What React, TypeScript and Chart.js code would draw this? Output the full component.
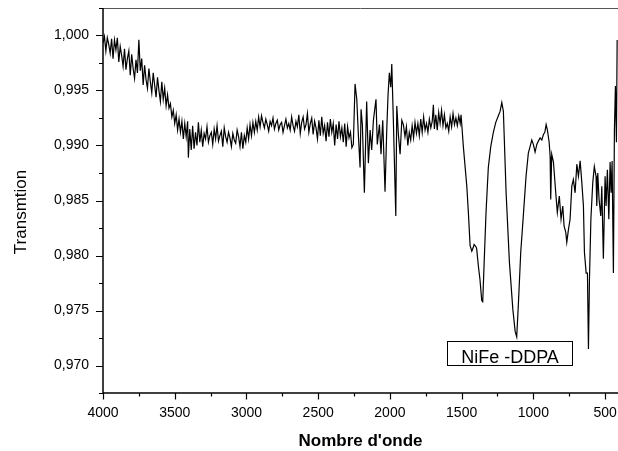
import React, { useEffect, useRef } from "react";
import { Chart, registerables } from "chart.js";

Chart.register(...registerables);

// Wavenumber (cm-1)
const wavenumbers = [
  4000, 3990, 3980, 3970, 3960, 3950, 3940, 3930, 3920, 3910,
  3900, 3890, 3880, 3870, 3860, 3850, 3840, 3830, 3820, 3810,
  3800, 3790, 3780, 3770, 3760, 3750, 3740, 3730, 3720, 3710,
  3700, 3690, 3680, 3670, 3660, 3650, 3640, 3630, 3620, 3610,
  3600, 3590, 3580, 3570, 3560, 3550, 3540, 3530, 3520, 3510,
  3500, 3490, 3480, 3470, 3460, 3450, 3440, 3430, 3420, 3410,
  3405, 3395, 3385, 3375, 3365, 3355, 3345, 3335, 3325, 3315,
  3305, 3295, 3285, 3275, 3265, 3255, 3245, 3235, 3225, 3215,
  3205, 3195, 3185, 3175, 3165, 3155, 3145, 3135, 3125, 3115,
  3105, 3095, 3085, 3075, 3065, 3055, 3045, 3035, 3025, 3015,
  3005, 2995, 2985, 2975, 2965, 2955, 2945, 2935, 2925, 2915,
  2905, 2895, 2885, 2875, 2865, 2855, 2845, 2835, 2825, 2815,
  2805, 2795, 2785, 2775, 2765, 2755, 2745, 2735, 2725, 2715,
  2705, 2695, 2685, 2675, 2665, 2655, 2645, 2635, 2625, 2615,
  2605, 2595, 2585, 2575, 2565, 2555, 2545, 2535, 2525, 2515,
  2505, 2495, 2485, 2475, 2465, 2455, 2445, 2435, 2425, 2415,
  2405, 2395, 2385, 2375, 2365, 2355, 2345, 2335, 2325, 2315,
  2305, 2295, 2285, 2275, 2265, 2255, 2243, 2231, 2220, 2208,
  2201, 2192, 2178, 2162, 2150, 2138, 2127, 2115, 2097, 2088,
  2073, 2062, 2050, 2034, 2022, 2013, 2004, 1994, 1987, 1976,
  1959, 1952, 1941, 1929, 1917, 1906, 1895, 1885, 1875, 1865,
  1855, 1845, 1835, 1825, 1815, 1805, 1795, 1785, 1775, 1765,
  1755, 1745, 1735, 1725, 1715, 1705, 1697, 1690, 1680, 1670,
  1660, 1650, 1640, 1630, 1620, 1610, 1600, 1590, 1580, 1570,
  1560, 1550, 1540, 1530, 1520, 1510, 1504, 1488, 1464, 1453,
  1441, 1429, 1420, 1413, 1400, 1395, 1383, 1372, 1360, 1353,
  1344, 1330, 1314, 1297, 1279, 1262, 1244, 1232, 1220, 1209,
  1190, 1167, 1143, 1127, 1116, 1104, 1088, 1070, 1051, 1035,
  1023, 1011, 1000, 988, 976, 965, 953, 941, 930, 920,
  911, 902, 890, 883, 879, 872, 860, 844, 833, 819,
  807, 795, 786, 774, 767, 756, 744, 732, 721, 709,
  697, 686, 674, 662, 651, 644, 632, 623, 616, 609,
  599, 586, 575, 563, 558, 551, 542, 530, 523, 512,
  500, 493, 484, 474, 465, 458, 451, 442, 435, 428,
  421, 416,
];

// Transmittance
const transmittance = [
  0.9993, 0.9999, 0.9986, 0.9998, 0.9992, 0.9984, 0.9997, 0.9979, 0.9996, 0.9987,
  0.9998, 0.9976, 0.999, 0.9982, 0.9972, 0.9988, 0.9969, 0.9979, 0.9986, 0.9964,
  0.9983, 0.997, 0.9961, 0.9978, 0.9966, 0.9996, 0.9968, 0.9979, 0.9955, 0.9973,
  0.996, 0.9952, 0.997, 0.9958, 0.9948, 0.9966, 0.9955, 0.9944, 0.9962, 0.995,
  0.994, 0.9958, 0.9942, 0.9952, 0.9936, 0.9946, 0.9934, 0.9938, 0.9926, 0.9932,
  0.992, 0.9928, 0.9914, 0.9924, 0.9912, 0.9922, 0.9906, 0.992, 0.9908, 0.9922,
  0.9889, 0.9915, 0.9896, 0.9918, 0.9897, 0.9912, 0.99, 0.9921, 0.9903, 0.9914,
  0.9899, 0.9911, 0.9906, 0.9917, 0.9903, 0.9909, 0.9912, 0.9901, 0.9915, 0.9906,
  0.9918, 0.9904, 0.9909, 0.9913, 0.9899, 0.9916, 0.9908, 0.9903, 0.9912, 0.9907,
  0.9899, 0.9911, 0.9905, 0.9902, 0.9914, 0.9908, 0.9899, 0.9912, 0.9897, 0.9909,
  0.9903, 0.9916, 0.9906, 0.9919, 0.9909, 0.9921, 0.9912, 0.9922, 0.9914, 0.9926,
  0.9917, 0.9927, 0.9921, 0.9916, 0.9924, 0.9919, 0.9913, 0.9922, 0.9918, 0.9925,
  0.9915, 0.992, 0.9923, 0.9914, 0.9919, 0.9921, 0.9912, 0.9918, 0.9924, 0.9916,
  0.992, 0.9914, 0.9926, 0.9918, 0.9913, 0.9922, 0.9917, 0.9928, 0.9911, 0.9921,
  0.9926, 0.9915, 0.9919, 0.9929, 0.9912, 0.992, 0.9925, 0.991, 0.9922, 0.9916,
  0.9906, 0.9923, 0.9909, 0.9926, 0.9911, 0.9918, 0.9904, 0.9921, 0.9908, 0.9924,
  0.9912, 0.992, 0.99, 0.9919, 0.9906, 0.9922, 0.9908, 0.9916, 0.9903, 0.992,
  0.9899, 0.9917, 0.9907, 0.9912, 0.9898, 0.9901, 0.9956, 0.9942, 0.991, 0.988,
  0.9933, 0.9919, 0.9857, 0.994, 0.9884, 0.9914, 0.9896, 0.9923, 0.9942, 0.9901,
  0.9919, 0.9892, 0.9923, 0.9858, 0.9914, 0.9946, 0.9966, 0.9953, 0.9974, 0.9923,
  0.9836, 0.9936, 0.991, 0.9892, 0.9923, 0.9919, 0.9908, 0.9917, 0.99, 0.9912,
  0.9905, 0.9918, 0.9907, 0.9921, 0.9911, 0.992, 0.9909, 0.9924, 0.9912, 0.9926,
  0.9914, 0.992, 0.9912, 0.9924, 0.9916, 0.9922, 0.9937, 0.9915, 0.9928, 0.9914,
  0.993, 0.992, 0.9932, 0.9918, 0.9928, 0.9916, 0.992, 0.9913, 0.9926, 0.9917,
  0.9929, 0.9919, 0.9925, 0.9918, 0.9927, 0.992, 0.9928, 0.9899, 0.9863, 0.9839,
  0.9809, 0.9804, 0.9807, 0.981, 0.9808, 0.9806, 0.979, 0.9778, 0.9759, 0.9758,
  0.979, 0.9839, 0.988, 0.9899, 0.9912, 0.9921, 0.9927, 0.9931, 0.9939, 0.9931,
  0.9857, 0.9794, 0.9751, 0.9731, 0.9726, 0.9757, 0.9803, 0.9836, 0.9872, 0.9893,
  0.9899, 0.9905, 0.9901, 0.9894, 0.9901, 0.9904, 0.9907, 0.9905, 0.991, 0.9912,
  0.9919, 0.9914, 0.9903, 0.989, 0.9851, 0.9892, 0.9885, 0.9857, 0.9839, 0.9854,
  0.9833, 0.9845, 0.9827, 0.9821, 0.9812, 0.9823, 0.9833, 0.9863, 0.9869, 0.9857,
  0.9883, 0.9872, 0.9886, 0.9866, 0.9845, 0.9803, 0.9784, 0.9784, 0.9715, 0.9778,
  0.9833, 0.9866, 0.9881, 0.9872, 0.9845, 0.9875, 0.9851, 0.9836, 0.9863, 0.9797,
  0.9872, 0.9845, 0.9878, 0.9833, 0.9885, 0.9857, 0.9886, 0.9784, 0.9914, 0.9954,
  0.9903, 0.9996,
];

const xMajorTicks = [4000, 3500, 3000, 2500, 2000, 1500, 1000, 500];
const xMinorTicks = [3750, 3250, 2750, 2250, 1750, 1250, 750];
const yMajorTicks = [0.97, 0.975, 0.98, 0.985, 0.99, 0.995, 1.0];
const yMinorTicks = [0.9675, 0.9725, 0.9775, 0.9825, 0.9875, 0.9925, 0.9975, 1.0025];

const xTitle = "Nombre d'onde";
const yTitle = "Transmtion";
const sampleLabel = "NiFe -DDPA";

const FONT = "'Liberation Sans', Arial, sans-serif";

const axesPlugin = {
  id: "originAxes",
  afterDraw(chart: any) {
    const { ctx, chartArea, scales } = chart;
    const xs = scales.x;
    const ys = scales.y;
    const { left, right, top, bottom } = chartArea;
    ctx.save();

    // top frame line
    ctx.strokeStyle = "#555";
    ctx.lineWidth = 1;
    ctx.beginPath();
    ctx.moveTo(left, top + 0.5);
    ctx.lineTo(right, top + 0.5);
    ctx.stroke();

    // axes
    ctx.strokeStyle = "#000";
    ctx.lineWidth = 1.5;
    ctx.beginPath();
    ctx.moveTo(left, top);
    ctx.lineTo(left, bottom + 0.75);
    ctx.moveTo(left - 0.75, bottom);
    ctx.lineTo(right, bottom);
    ctx.stroke();

    // ticks
    ctx.lineWidth = 1.2;
    ctx.beginPath();
    xMajorTicks.forEach((v) => {
      const p = Math.round(xs.getPixelForValue(v)) + 0.5;
      ctx.moveTo(p, bottom);
      ctx.lineTo(p, bottom + 6.5);
    });
    xMinorTicks.forEach((v) => {
      const p = Math.round(xs.getPixelForValue(v)) + 0.5;
      ctx.moveTo(p, bottom);
      ctx.lineTo(p, bottom + 3.5);
    });
    yMajorTicks.forEach((v) => {
      const p = Math.round(ys.getPixelForValue(v)) + 0.5;
      ctx.moveTo(left, p);
      ctx.lineTo(left - 7, p);
    });
    yMinorTicks.forEach((v) => {
      const p = Math.round(ys.getPixelForValue(v)) + 0.5;
      ctx.moveTo(left, p);
      ctx.lineTo(left - 4, p);
    });
    ctx.stroke();

    // tick labels
    ctx.fillStyle = "#000";
    ctx.font = `14px ${FONT}`;
    ctx.textAlign = "center";
    ctx.textBaseline = "alphabetic";
    xMajorTicks.forEach((v) => {
      ctx.fillText(String(v), xs.getPixelForValue(v), bottom + 24);
    });
    ctx.textAlign = "right";
    ctx.textBaseline = "middle";
    yMajorTicks.forEach((v) => {
      ctx.fillText(v.toFixed(3).replace(".", ","), left - 14, ys.getPixelForValue(v));
    });

    // axis titles
    ctx.font = `bold 17px ${FONT}`;
    ctx.textAlign = "center";
    ctx.textBaseline = "alphabetic";
    ctx.fillText(xTitle, (left + right) / 2, 446);

    ctx.save();
    ctx.translate(26, 212);
    ctx.rotate(-Math.PI / 2);
    ctx.font = `17px ${FONT}`;
    ctx.textAlign = "center";
    ctx.textBaseline = "alphabetic";
    ctx.fillText(yTitle, 0, 0);
    ctx.restore();

    // sample label box
    const bx = 447.5, by = 341.5, bw = 125, bh = 24;
    ctx.fillStyle = "#fff";
    ctx.fillRect(bx, by, bw, bh);
    ctx.strokeStyle = "#000";
    ctx.lineWidth = 1;
    ctx.strokeRect(bx, by, bw, bh);
    ctx.fillStyle = "#000";
    ctx.font = `18px ${FONT}`;
    ctx.textAlign = "center";
    ctx.textBaseline = "alphabetic";
    ctx.fillText(sampleLabel, bx + bw / 2, 362.5);

    ctx.restore();
  },
};

export default function App() {
  const canvasRef = useRef<HTMLCanvasElement | null>(null);

  useEffect(() => {
    const canvas = canvasRef.current;
    if (!canvas) return;
    const points = wavenumbers.map((w, i) => ({ x: w, y: transmittance[i] }));
    const chart = new Chart(canvas, {
      type: "line",
      data: {
        datasets: [
          {
            data: points,
            borderColor: "#000",
            borderWidth: 1.2,
            pointRadius: 0,
            tension: 0,
            fill: false,
          },
        ],
      },
      options: {
        animation: false,
        responsive: false,
        devicePixelRatio: 1,
        events: [],
        layout: { padding: { top: 8, left: 0, right: 0, bottom: 0 } },
        plugins: {
          legend: { display: false },
          tooltip: { enabled: false },
        },
        scales: {
          x: {
            type: "linear",
            min: 410,
            max: 4000,
            reverse: true,
            grid: { display: false },
            border: { display: false },
            ticks: { display: false },
            afterFit: (s: any) => {
              s.height = 58;
            },
          },
          y: {
            type: "linear",
            min: 0.9675,
            max: 1.0025,
            grid: { display: false },
            border: { display: false },
            ticks: { display: false },
            afterFit: (s: any) => {
              s.width = 103;
            },
          },
        },
      },
      plugins: [axesPlugin],
    });
    return () => chart.destroy();
  }, []);

  return (
    <div style={{ position: "fixed", left: 0, top: 0, width: 618, height: 451, background: "#fff" }}>
      <canvas ref={canvasRef} width={618} height={451} style={{ display: "block" }} />
    </div>
  );
}
